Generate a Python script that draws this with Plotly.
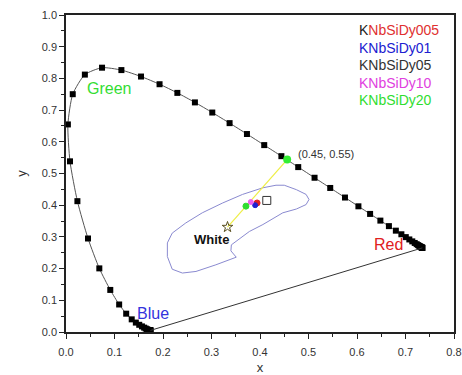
import plotly.graph_objects as go

# CIE 1931 spectral locus (380-700 nm, 5 nm steps)
locus_x = [0.1741, 0.1740, 0.1738, 0.1736, 0.1733, 0.1730, 0.1726, 0.1721, 0.1714, 0.1703,
           0.1689, 0.1669, 0.1644, 0.1611, 0.1566, 0.1510, 0.1440, 0.1355, 0.1241, 0.1096,
           0.0913, 0.0687, 0.0454, 0.0235, 0.0082, 0.0039, 0.0139, 0.0389, 0.0743, 0.1142,
           0.1547, 0.1929, 0.2296, 0.2658, 0.3016, 0.3373, 0.3731, 0.4087, 0.4441, 0.4788,
           0.5125, 0.5448, 0.5752, 0.6029, 0.6270, 0.6482, 0.6658, 0.6801, 0.6915, 0.7006,
           0.7079, 0.7140, 0.7190, 0.7230, 0.7260, 0.7283, 0.7300, 0.7311, 0.7320, 0.7327,
           0.7334, 0.7340, 0.7344, 0.7346, 0.7347]
locus_y = [0.0050, 0.0050, 0.0049, 0.0049, 0.0048, 0.0048, 0.0048, 0.0048, 0.0051, 0.0058,
           0.0069, 0.0086, 0.0109, 0.0138, 0.0177, 0.0227, 0.0297, 0.0399, 0.0578, 0.0868,
           0.1327, 0.2007, 0.2950, 0.4127, 0.5384, 0.6548, 0.7502, 0.8120, 0.8338, 0.8262,
           0.8059, 0.7816, 0.7543, 0.7243, 0.6923, 0.6589, 0.6245, 0.5896, 0.5547, 0.5202,
           0.4866, 0.4544, 0.4242, 0.3965, 0.3725, 0.3514, 0.3340, 0.3197, 0.3083, 0.2993,
           0.2920, 0.2859, 0.2809, 0.2770, 0.2740, 0.2717, 0.2700, 0.2689, 0.2680, 0.2673,
           0.2666, 0.2660, 0.2656, 0.2654, 0.2653]

# white region boundary
region_x = [0.450, 0.475, 0.495, 0.501, 0.495, 0.475, 0.447, 0.426, 0.406, 0.378,
            0.341, 0.340, 0.351, 0.309, 0.268, 0.240, 0.219, 0.209, 0.209, 0.219,
            0.247, 0.281, 0.323, 0.364, 0.406, 0.433, 0.450]
region_y = [0.463, 0.449, 0.434, 0.418, 0.402, 0.388, 0.376, 0.357, 0.339, 0.317,
            0.275, 0.256, 0.236, 0.212, 0.191, 0.186, 0.198, 0.238, 0.281, 0.312,
            0.344, 0.376, 0.407, 0.434, 0.455, 0.463, 0.463]

# samples
sample_names = ["KNbSiDy005", "KNbSiDy01", "KNbSiDy05", "KNbSiDy10", "KNbSiDy20"]
sample_x = [0.394, 0.390, 0.414, 0.381, 0.371]
sample_y = [0.407, 0.400, 0.415, 0.410, 0.397]
sample_colors = ["#e02020", "#2020d0", "#333333", "#f060f0", "#30dd30"]
sample_symbols = ["circle", "circle", "square-open", "circle", "circle"]
sample_sizes = [6, 5, 8, 5, 6]

white_pt = (0.333, 0.331)
dominant_pt = (0.456, 0.544)
dominant_label = "(0.45, 0.55)"

fig = go.Figure()

# spectral locus
fig.add_trace(go.Scatter(x=locus_x, y=locus_y, mode="lines+markers",
                         line=dict(color="#555555", width=1, shape="spline", smoothing=0.6),
                         marker=dict(symbol="square", size=6, color="black"),
                         hoverinfo="skip", showlegend=False))
# purple line
fig.add_trace(go.Scatter(x=[locus_x[-1], locus_x[0]], y=[locus_y[-1], locus_y[0]], mode="lines",
                         line=dict(color="#333333", width=1), showlegend=False))
# white region
fig.add_trace(go.Scatter(x=region_x, y=region_y, mode="lines",
                         line=dict(color="#8a8ad0", width=1), showlegend=False))
# yellow line white -> dominant
fig.add_trace(go.Scatter(x=[white_pt[0], dominant_pt[0]], y=[white_pt[1], dominant_pt[1]],
                         mode="lines", line=dict(color="#eeee44", width=1.2), showlegend=False))
# samples
for i in range(len(sample_names)):
    fig.add_trace(go.Scatter(x=[sample_x[i]], y=[sample_y[i]], mode="markers", name=sample_names[i],
                             marker=dict(symbol=sample_symbols[i], size=sample_sizes[i],
                                         color=sample_colors[i], line=dict(width=1, color=sample_colors[i])),
                             showlegend=False))
# white star
fig.add_trace(go.Scatter(x=[white_pt[0]], y=[white_pt[1]], mode="markers",
                         marker=dict(symbol="star-open", size=8, color="#5a5020", line=dict(width=1)),
                         showlegend=False))
# dominant point
fig.add_trace(go.Scatter(x=[dominant_pt[0]], y=[dominant_pt[1]], mode="markers",
                         marker=dict(symbol="circle", size=8, color="#33ee33"), showlegend=False))

font = "Liberation Sans, Arial, sans-serif"
ann = []
ann.append(dict(x=0.089, y=0.769, text="Green", font=dict(size=16, color="#33dd33")))
ann.append(dict(x=0.180, y=0.058, text="Blue", font=dict(size=16, color="#3333dd")))
ann.append(dict(x=0.664, y=0.275, text="Red", font=dict(size=16, color="#e02020")))
ann.append(dict(x=0.299, y=0.291, text="<b>White</b>", font=dict(size=13, color="#111111")))
ann.append(dict(x=0.536, y=0.563, text=dominant_label, font=dict(size=11, color="#333333")))

legend_y = [0.952, 0.896, 0.841, 0.786, 0.732]
for i, name in enumerate(sample_names):
    if i == 0:
        txt = "<span style='color:#222222'>K</span><span style='color:#e03030'>" + name[1:] + "</span>"
    else:
        txt = name
    ann.append(dict(x=0.599, y=legend_y[i], text=txt, xanchor="left",
                    font=dict(size=14, color=sample_colors[i] if i != 3 else "#e040e0")))

for a in ann:
    a.setdefault("xanchor", "center")
    a.update(xref="x", yref="y", showarrow=False, yanchor="middle")
    a["font"]["family"] = font

axis_common = dict(showline=True, linecolor="#222222", linewidth=1.5, mirror=True,
                   ticks="outside", ticklen=5, tickwidth=1, tickcolor="#222222",
                   showgrid=False, zeroline=False, tickformat=".1f", automargin=False,
                   tickfont=dict(family=font, size=11, color="#333333"),
                   minor=dict(ticks="outside", ticklen=3, tickcolor="#222222", nticks=2))

fig.update_layout(
    width=462, height=375,
    margin=dict(l=66, r=8, t=15, b=43),
    plot_bgcolor="white", paper_bgcolor="white",
    font=dict(family=font),
    annotations=ann,
    xaxis=dict(range=[0, 0.8], dtick=0.1, ticklabelstandoff=4,
               title=dict(text="x", font=dict(size=13, color="#333333"), standoff=6),
               **axis_common),
    yaxis=dict(range=[0, 1.0], dtick=0.1,
               title=dict(text="y", font=dict(size=13, color="#333333"), standoff=12),
               **axis_common),
)

fig.write_html("out.html")
